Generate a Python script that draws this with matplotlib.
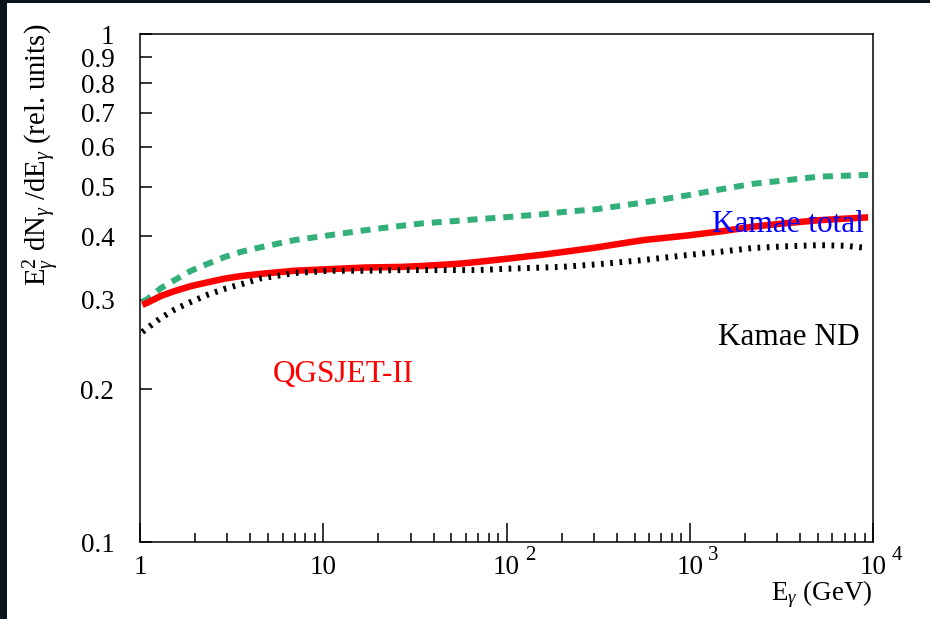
import matplotlib
matplotlib.use('Agg')
import matplotlib.pyplot as plt
from matplotlib.patches import Rectangle
from matplotlib.ticker import FixedLocator, FixedFormatter, NullLocator

plt.rcParams['font.family'] = ['Liberation Serif', 'DejaVu Serif']
plt.rcParams['mathtext.fontset'] = 'custom'
plt.rcParams['mathtext.rm'] = 'Liberation Serif'
plt.rcParams['mathtext.it'] = 'Liberation Serif:italic'

# photon energy (GeV) and spectra
energy = [1.03, 1.1, 1.3, 1.55, 1.9, 2.3, 2.9, 3.6, 4.5, 7, 11, 17, 27, 35, 55, 70,
          100, 160, 200, 310, 370, 560, 960, 1500, 2200, 3300, 5100, 7000, 9400]
qgsjet = [0.293, 0.296, 0.305, 0.312, 0.319, 0.324, 0.330, 0.334, 0.337, 0.342, 0.3445,
          0.347, 0.348, 0.3495, 0.353, 0.356, 0.361, 0.368, 0.372, 0.380, 0.384, 0.393,
          0.401, 0.409, 0.4175, 0.424, 0.430, 0.433, 0.4355]
kamae_total = [0.297, 0.301, 0.316, 0.328, 0.342, 0.352, 0.364, 0.373, 0.380, 0.393, 0.402,
               0.411, 0.4195, 0.424, 0.429, 0.432, 0.436, 0.442, 0.446, 0.452, 0.456, 0.466,
               0.481, 0.495, 0.507, 0.515, 0.524, 0.526, 0.528]
kamae_nd = [0.259, 0.264, 0.276, 0.287, 0.297, 0.306, 0.315, 0.322, 0.330, 0.3385, 0.342,
            0.342, 0.343, 0.343, 0.343, 0.343, 0.345, 0.347, 0.348, 0.352, 0.354, 0.359,
            0.367, 0.373, 0.379, 0.382, 0.384, 0.383, 0.379]

ytick_vals = [0.1, 0.2, 0.3, 0.4, 0.5, 0.6, 0.7, 0.8, 0.9, 1.0]
ytick_labels = ['0.1', '0.2', '0.3', '0.4', '0.5', '0.6', '0.7', '0.8', '0.9', '1']
xtick_vals = [1, 10, 100, 1000, 10000]
xtick_labels = ['1', '10', '10', '10', '10']
xtick_exps = [None, None, '2', '3', '4']

fig = plt.figure(figsize=(9.3, 6.19), dpi=100, facecolor='#0b141b')
fig.add_artist(Rectangle((7 / 930, 0), 1, 1 - 3 / 619, transform=fig.transFigure,
                         facecolor='white', edgecolor='none', zorder=0))
ax = fig.add_axes([140 / 930, 77 / 619, 733 / 930, 508 / 619])

ax.plot(energy, kamae_total, color='#33b07a', lw=4.3, linestyle=(0, (1.67, 1.33)),
        dash_capstyle='butt')
ax.plot(energy, qgsjet, color='red', lw=4.7, solid_capstyle='butt')
ax.plot(energy, kamae_nd, color='black', lw=4.3, linestyle=(0, (0.45, 1.1)),
        dash_capstyle='butt')

ax.set_xscale('log')
ax.set_yscale('log')
ax.set_xlim(1, 10000)
ax.set_ylim(0.1, 1)

ax.yaxis.set_major_locator(FixedLocator(ytick_vals))
ax.yaxis.set_major_formatter(FixedFormatter(ytick_labels))
ax.yaxis.set_minor_locator(NullLocator())
ax.xaxis.set_major_locator(FixedLocator(xtick_vals))
ax.xaxis.set_major_formatter(FixedFormatter(xtick_labels))

ax.tick_params(axis='y', which='both', direction='in', length=8.6, width=1.1,
               labelsize=19.5, pad=18.5, right=False)
ax.tick_params(axis='x', which='major', direction='in', length=13.7, width=1.1,
               labelsize=19.5, pad=9, top=False)
ax.tick_params(axis='x', which='minor', direction='in', length=6.5, width=1.1, top=False)
ax.tick_params(axis='x', which='minor', labelbottom=False)
for s in ax.spines.values():
    s.set_linewidth(1.1)

for xv, ex in zip(xtick_vals, xtick_exps):
    if ex:
        ax.annotate(ex, xy=(xv, 0), xycoords=('data', 'axes fraction'),
                    xytext=(17, -9.4), textcoords='offset points',
                    ha='center', va='center', fontsize=15)

ax.text(1.0, -0.115, r'E$_{\gamma}$ (GeV)', transform=ax.transAxes,
        ha='right', va='baseline', fontsize=19.5)
ax.text(-0.134, 0.762, r'E$_{\gamma}^{2}$ dN$_{\gamma}$ /dE$_{\gamma}$ (rel. units)',
        transform=ax.transAxes, rotation=90, ha='center', va='center', fontsize=20.6)

ax.text(0.9877, 0.610, 'Kamae total', transform=ax.transAxes, color='blue',
        ha='right', va='baseline', fontsize=22.5)
ax.text(0.9823, 0.388, 'Kamae ND', transform=ax.transAxes, color='black',
        ha='right', va='baseline', fontsize=22.5)
ax.text(0.1814, 0.315, 'QGSJET-II', transform=ax.transAxes, color='red',
        ha='left', va='baseline', fontsize=22.5)

fig.savefig('out.png', dpi=100, facecolor=fig.get_facecolor())
